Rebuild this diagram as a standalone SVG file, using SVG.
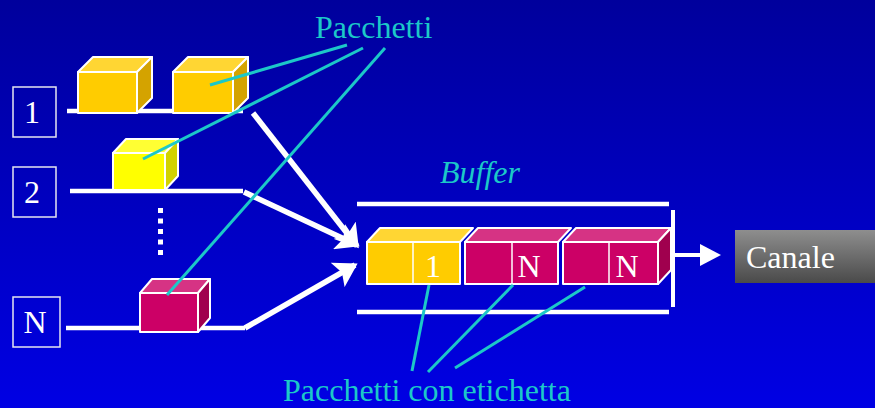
<svg xmlns="http://www.w3.org/2000/svg" width="875" height="408" viewBox="0 0 875 408">
<defs>
<linearGradient id="bg" x1="0" y1="0" x2="0" y2="1">
<stop offset="0" stop-color="#00009C"/>
<stop offset="1" stop-color="#0000E4"/>
</linearGradient>
<linearGradient id="gray" x1="0" y1="0" x2="0" y2="1">
<stop offset="0" stop-color="#8E8E8E"/>
<stop offset="1" stop-color="#4A4A4A"/>
</linearGradient>
<marker id="ah" viewBox="0 0 24 28" refX="20" refY="14" markerWidth="24" markerHeight="28" markerUnits="userSpaceOnUse" orient="auto">
<path d="M0,0 L23,14 L0,28 L5,14 Z" fill="#FFFFFF"/>
</marker>
</defs>
<style>
.lbl{font-family:"Liberation Serif","Times New Roman",serif;font-size:32px;fill:#FFFFFF;text-anchor:middle}
.cy{font-family:"Liberation Serif","Times New Roman",serif;font-size:32px;fill:#1CC8C8}
.box{fill:none;stroke:#E6E6F0;stroke-width:1.5}
.wl{stroke:#FFFFFF;stroke-width:4.5;fill:none}
.cb{stroke:#FFFFFF;stroke-width:2;stroke-linejoin:round}
.gf{fill:#FFCC00}.gt{fill:#FFD633}.gs{fill:#D4A300}
.yf{fill:#FFFF00}.yt{fill:#FFFF33}.ys{fill:#D2D200}
.mf{fill:#CC0066}.mt{fill:#D63384}.ms{fill:#A0004E}
.ld{stroke:#1CC8C8;stroke-width:3;fill:none}
.ar{stroke:#FFFFFF;stroke-width:5.5;fill:none;marker-end:url(#ah)}
</style>
<rect x="0" y="0" width="875" height="408" fill="url(#bg)"/>

<g id="input-1">
<rect class="box" x="13" y="87" width="43" height="50"/>
<text class="lbl" x="32" y="123">1</text>
<line class="wl" x1="67" y1="111" x2="243" y2="111"/>
</g>
<g id="input-2">
<rect class="box" x="13" y="167" width="43" height="50"/>
<text class="lbl" x="32" y="203">2</text>
<line class="wl" x1="70" y1="191" x2="243" y2="191"/>
</g>
<g id="dots">
<rect x="158" y="208" width="5" height="5" fill="#FFFFFF"/>
<rect x="158" y="218.5" width="5" height="5" fill="#FFFFFF"/>
<rect x="158" y="229" width="5" height="5" fill="#FFFFFF"/>
<rect x="158" y="239.5" width="5" height="5" fill="#FFFFFF"/>
<rect x="158" y="250" width="5" height="5" fill="#FFFFFF"/>
</g>
<g id="input-N">
<rect class="box" x="13" y="297" width="47" height="50"/>
<text class="lbl" x="35" y="333">N</text>
<line class="wl" x1="66" y1="328" x2="245" y2="328"/>
</g>

<g id="packet-1a">
<polygon class="cb gf" points="78,72 137,72 137,113 78,113"/>
<polygon class="cb gt" points="78,72 93,57 152,57 137,72"/>
<polygon class="cb gs" points="137,72 152,57 152,98 137,113"/>
</g>
<g id="packet-1b">
<polygon class="cb gf" points="173,72 233,72 233,113 173,113"/>
<polygon class="cb gt" points="173,72 188,57 248,57 233,72"/>
<polygon class="cb gs" points="233,72 248,57 248,98 233,113"/>
</g>
<g id="packet-2">
<polygon class="cb yf" points="113,153 165,153 165,190 113,190"/>
<polygon class="cb yt" points="113,153 126,139 178,139 165,153"/>
<polygon class="cb ys" points="165,153 178,139 178,176 165,190"/>
</g>
<g id="packet-N">
<polygon class="cb mf" points="140,293 198,293 198,332 140,332"/>
<polygon class="cb mt" points="140,293 152,279 210,279 198,293"/>
<polygon class="cb ms" points="198,293 210,279 210,318 198,332"/>
</g>

<g id="buffer">
<line class="wl" x1="357" y1="204" x2="669" y2="204"/>
<line class="wl" x1="357" y1="312" x2="669" y2="312"/>
<text class="cy" x="440" y="183" font-style="italic">Buffer</text>
</g>
<g id="buffer-packet-1">
<polygon class="cb gf" points="367,242 460,242 460,284 367,284"/>
<polygon class="cb gt" points="367,242 380,228 473,228 460,242"/>
<line x1="413" y1="242" x2="413" y2="284" stroke="#FFFFFF" stroke-width="1.5"/>
<text class="lbl" x="433" y="277">1</text>
</g>
<g id="buffer-packet-N1">
<polygon class="cb mf" points="465,242 558,242 558,284 465,284"/>
<polygon class="cb mt" points="465,242 478,228 571,228 558,242"/>
<line x1="512" y1="242" x2="512" y2="284" stroke="#FFFFFF" stroke-width="1.5"/>
<text class="lbl" x="529" y="277">N</text>
</g>
<g id="buffer-packet-N2">
<polygon class="cb mf" points="563,242 658,242 658,284 563,284"/>
<polygon class="cb mt" points="563,242 576,228 671,228 658,242"/>
<polygon class="cb ms" points="658,242 671,228 671,270 658,284"/>
<line x1="609" y1="242" x2="609" y2="284" stroke="#FFFFFF" stroke-width="1.5"/>
<text class="lbl" x="627" y="277">N</text>
</g>
<g id="buffer-end">
<line x1="673" y1="210" x2="673" y2="307" stroke="#FFFFFF" stroke-width="4"/>
</g>

<g id="canale">
<rect x="735" y="230" width="140" height="53" fill="url(#gray)"/>
<text class="lbl" x="746" y="268" style="text-anchor:start">Canale</text>
</g>

<g id="connectors">
<line class="ar" x1="253" y1="113" x2="357" y2="246"/>
<line class="ar" x1="244" y1="192" x2="357" y2="245"/>
<line class="ar" x1="245" y1="328" x2="355" y2="265"/>
<line x1="672" y1="255" x2="702" y2="255" stroke="#FFFFFF" stroke-width="4"/>
<polygon points="700,244 721,255 700,266" fill="#FFFFFF"/>
<line class="ld" x1="347" y1="45" x2="210" y2="85"/>
<line class="ld" x1="363" y1="48" x2="143" y2="159"/>
<line class="ld" x1="385" y1="48" x2="167" y2="295"/>
<line class="ld" x1="429" y1="285" x2="412" y2="371"/>
<line class="ld" x1="513" y1="285" x2="428" y2="372"/>
<line class="ld" x1="585" y1="287" x2="455" y2="368"/>
</g>

<g id="labels">
<text class="cy" x="315" y="38">Pacchetti</text>
<text class="cy" x="283" y="401">Pacchetti con etichetta</text>
</g>
</svg>
